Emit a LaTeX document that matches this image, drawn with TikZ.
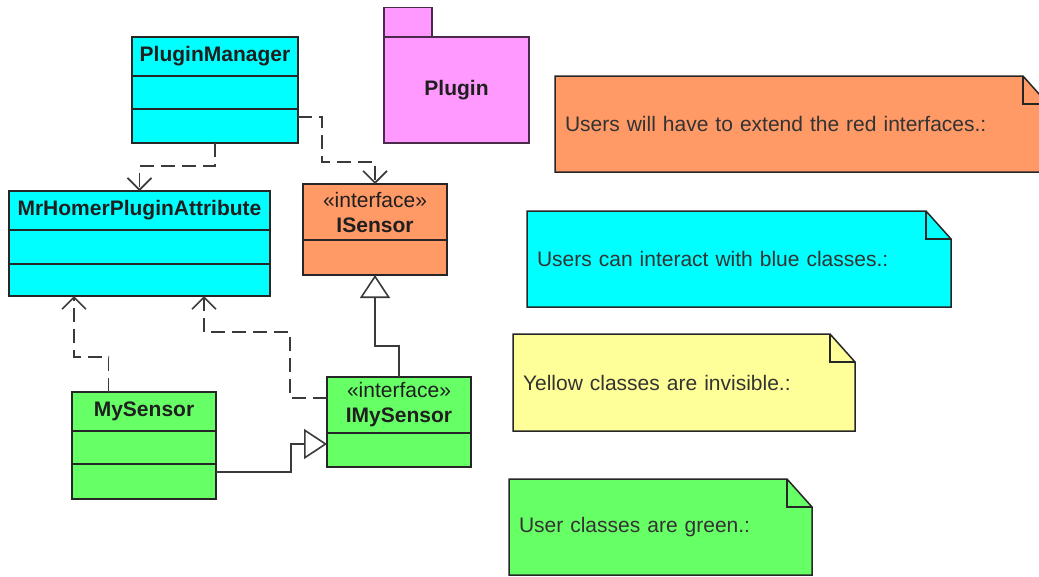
\documentclass[tikz,border=0pt]{standalone}
\usepackage{fontspec}
\setmainfont{Liberation Sans}
\usetikzlibrary{arrows.meta}
\definecolor{cy}{HTML}{00FFFF}
\definecolor{orng}{HTML}{FF9966}
\definecolor{grn}{HTML}{66FF66}
\definecolor{ylw}{HTML}{FFFF99}
\definecolor{pnk}{HTML}{FF99FF}
\definecolor{edgec}{HTML}{262626}
\definecolor{wire}{HTML}{3A3A3A}
\definecolor{pkgedge}{HTML}{4A2A4A}
\pgfdeclarelayer{background}
\pgfsetlayers{background,main}
\begin{document}
\begin{tikzpicture}[x=1pt,y=-1pt,
  cbox/.style={draw=edgec, line width=1.6pt, inner sep=0pt, outer sep=0pt,
    anchor=north west, align=center, text=black!88,
    font=\fontsize{21}{25}\selectfont\bfseries},
  stereo/.style={font=\fontsize{21}{25}\selectfont\mdseries},
  note/.style={inner xsep=10pt, inner ysep=0pt, outer sep=0pt, align=left,
    anchor=north west, text=black!80, font=\fontsize{21}{25}\selectfont},
  notebg/.style={draw=edgec, line width=1.5pt, line join=miter},
  dep/.style={draw=wire, line width=1.6pt, dash pattern=on 14pt off 7pt,
    -{Straight Barb[length=12pt,width=24pt,line width=1.6pt]}},
  gen/.style={draw=wire, line width=1.6pt,
    -{Triangle[open,length=23pt,width=30pt,line width=1.6pt,fill=white]}}]
\useasboundingbox (0,0) rectangle (1039,576);

% ---------- Plugin package
\node[cbox, draw=pkgedge, fill=pnk, minimum width=145pt, minimum height=106pt] (plug) at (384,37) {Plugin};
\node[cbox, draw=pkgedge, fill=pnk, minimum width=48pt, minimum height=29.5pt, anchor=south west] (plugtab) at (plug.north west) {};

% ---------- PluginManager
\node[cbox, fill=cy, minimum width=166pt, minimum height=39pt] (pmh) at (132,37) {PluginManager};
\node[cbox, fill=cy, minimum width=166pt, minimum height=33pt, anchor=north] (pma) at (pmh.south) {};
\node[cbox, fill=cy, minimum width=166pt, minimum height=34pt, anchor=north] (pmo) at (pma.south) {};

% ---------- MrHomerPluginAttribute
\node[cbox, fill=cy, minimum width=261pt, minimum height=39pt] (mhh) at (9,191) {MrHomerPluginAttribute};
\node[cbox, fill=cy, minimum width=261pt, minimum height=34pt, anchor=north] (mha) at (mhh.south) {};
\node[cbox, fill=cy, minimum width=261pt, minimum height=32pt, anchor=north] (mho) at (mha.south) {};

% ---------- ISensor
\node[cbox, fill=orng, minimum width=144pt, minimum height=56pt] (ish) at (303,184) {{\mdseries «interface»}\\ISensor};
\node[cbox, fill=orng, minimum width=144pt, minimum height=35pt, anchor=north] (isa) at (ish.south) {};

% ---------- IMySensor
\node[cbox, fill=grn, minimum width=144pt, minimum height=56pt] (imsh) at (327,377) {{\mdseries «interface»}\\IMySensor};
\node[cbox, fill=grn, minimum width=144pt, minimum height=34pt, anchor=north] (imsa) at (imsh.south) {};

% ---------- MySensor
\node[cbox, fill=grn, minimum width=144pt, minimum height=39pt] (msh) at (72,392) {MySensor};
\node[cbox, fill=grn, minimum width=144pt, minimum height=33pt, anchor=north] (msa) at (msh.south) {};
\node[cbox, fill=grn, minimum width=144pt, minimum height=35pt, anchor=north] (mso) at (msa.south) {};

% ---------- connectors
\draw[dep] (pmo.south) -- ++(0,23) -| (mhh.north);
\draw[dep] ([yshift=9pt]pmo.east) -- ++(24,0) -- ++(0,45) -| (ish.north);
\draw[gen] (imsh.north) -- ++(0,-31) -| (isa.south);
\draw[dep] ([xshift=36.5pt]msh.north west) -- ++(0,-35) -| ([xshift=65pt]mho.south west);
\draw[dep] ([yshift=7pt]imsh.west) -- ++(-37,0) -- ++(0,-66) -| ([xshift=195pt]mho.south west);
\draw[gen] ([yshift=9.5pt]mso.east) -| ++(75,-28) -- ([yshift=6pt]imsa.west);

% ---------- notes
\node[note, minimum width=493pt, minimum height=96pt, text width=473pt] (n1) at (555,76) {Users will have to extend the red interfaces.:};
\node[note, minimum width=424pt, minimum height=96pt, text width=404pt] (n2) at (527,211) {Users can interact with blue classes.:};
\node[note, minimum width=342pt, minimum height=97pt, text width=322pt] (n3) at (513,334) {Yellow classes are invisible.:};
\node[note, minimum width=303pt, minimum height=96pt, text width=283pt] (n4) at (509,479) {User classes are green.:};

\begin{pgfonlayer}{background}
\clip (0,0) rectangle (1039,576);
\foreach \n/\c in {n1/orng,n2/cy,n3/ylw,n4/grn}{
  \draw[notebg, fill=\c] (\n.north west) -- ([xshift=-25pt]\n.north east)
     -- ([yshift=-28pt]\n.north east) -- (\n.south east) -- (\n.south west) -- cycle;
  \draw[notebg] ([xshift=-25pt]\n.north east) |- ([yshift=-28pt]\n.north east);
}
\end{pgfonlayer}
\end{tikzpicture}
\end{document}
